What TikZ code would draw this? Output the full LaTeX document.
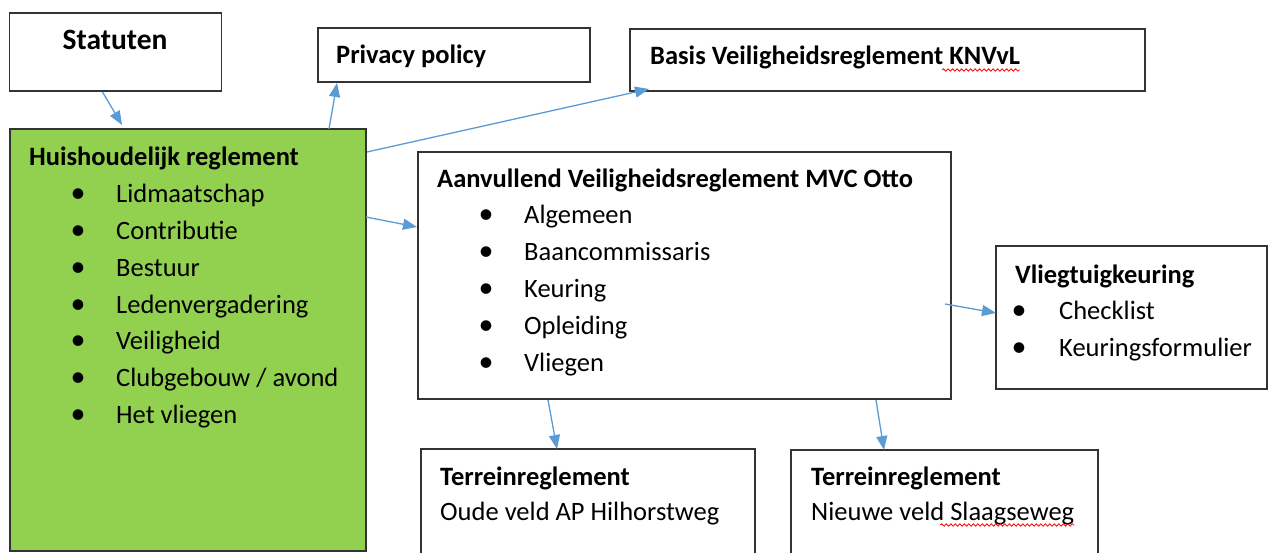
\documentclass[tikz,border=0pt]{standalone}
\usepackage{fontspec}
\setmainfont{Carlito}
\usetikzlibrary{arrows.meta,decorations.pathmorphing}
\definecolor{arrowblue}{HTML}{5B9BD5}
\definecolor{boxgreen}{HTML}{92D050}
\begin{document}
\begin{tikzpicture}[x=1pt,y=-1pt,
  box/.style={draw=black!80, line width=1.3pt, inner sep=0pt, outer sep=0pt, anchor=north west},
  txt/.style={anchor=base west, inner sep=0pt, yshift=-2pt, font=\fontsize{26.5}{30}\selectfont},
  btxt/.style={anchor=base west, inner sep=0pt, yshift=-2pt, font=\fontsize{26.5}{30}\selectfont\bfseries},
  bul/.style={anchor=base, inner sep=0pt, yshift=-2pt, font=\fontsize{30}{30}\selectfont},
  arr/.style={draw=arrowblue, line width=1.3pt, -{Triangle[length=14pt,width=11pt]}},
  wig/.style={draw=red, line width=0.8pt, decorate, decoration={snake, amplitude=1.2pt, segment length=4.5pt}}
]
\useasboundingbox (0,0) rectangle (1270,553);
\clip (0,0) rectangle (1270,553);

% boxes
\node[box, minimum width=212pt, minimum height=78pt] (stat) at (9.5,13) {};
\node[box, minimum width=272pt, minimum height=54pt] (priv) at (318,28) {};
\node[box, minimum width=515pt, minimum height=62pt] (basis) at (630,29) {};
\node[box, fill=boxgreen, minimum width=356pt, minimum height=422pt] (huis) at (10,129) {};
\node[box, minimum width=533pt, minimum height=247pt] (aanv) at (418,152) {};
\node[box, minimum width=271pt, minimum height=143pt] (vlieg) at (996,246) {};
\node[box, minimum width=334pt, minimum height=120pt] (ter1) at (421,449) {};
\node[box, minimum width=307pt, minimum height=120pt] (ter2) at (791,450) {};

% texts
\node[btxt, anchor=base, font=\fontsize{29.5}{30}\selectfont\bfseries] (statt) at (115,48) {Statuten};
\node[btxt] (privt) at (336,62) {Privacy policy};
\node[btxt] (basist) at (650,63) {Basis Veiligheidsreglement KNVvL};
\node[btxt] (huist) at (29,164) {Huishoudelijk reglement};
\foreach \t [count=\i from 0] in {Lidmaatschap, Contributie, Bestuur, Ledenvergadering, Veiligheid, Clubgebouw / avond, Het vliegen} {
  \node[bul] (hb\i) at (78, 201+36.7*\i) {•};
  \node[txt] (hi\i) at (116, 201+36.7*\i) {\t};
}
\node[btxt] (aanvt) at (437,186) {Aanvullend Veiligheidsreglement MVC Otto};
\foreach \t [count=\i from 0] in {Algemeen, Baancommissaris, Keuring, Opleiding, Vliegen} {
  \node[bul] (ab\i) at (486, 222+36.8*\i) {•};
  \node[txt] (ai\i) at (524, 222+36.8*\i) {\t};
}
\node[btxt] (vliegt) at (1015,282) {Vliegtuigkeuring};
\node[bul] (vb0) at (1019,318) {•};
\node[txt] (vi0) at (1059,318) {Checklist};
\node[bul] (vb1) at (1019,355) {•};
\node[txt] (vi1) at (1059,355) {Keuringsformulier};
\node[btxt] (ter1t) at (440,483) {Terreinreglement};
\node[txt] (ter1b) at (440,518) {Oude veld AP Hilhorstweg};
\node[btxt] (ter2t) at (811,483) {Terreinreglement};
\node[txt] (ter2b) at (811,518) {Nieuwe veld Slaagseweg};

% spell-check squiggles
\draw[wig] ([xshift=-78pt,yshift=-5pt]basist.base east) -- ([yshift=-5pt]basist.base east);
\draw[wig] ([xshift=-134pt,yshift=-5pt]ter2b.base east) -- ([yshift=-5pt]ter2b.base east);

% connectors
\draw[arr] ([xshift=93pt,yshift=-1pt]stat.south west) -- ([xshift=112pt,yshift=4pt]huis.north west);
\draw[arr] ([xshift=319pt]huis.north west) -- ([xshift=19pt,yshift=-1pt]priv.south west);
\draw[arr] ([xshift=1pt,yshift=-23pt]huis.north east) -- ([xshift=19pt,yshift=2pt]basis.south west);
\draw[arr] ([yshift=-88pt]huis.north east) -- ([xshift=-1pt,yshift=-75pt]aanv.north west);
\draw[arr] ([xshift=-6pt,yshift=-152pt]aanv.north east) -- ([yshift=-67pt]vlieg.north west);
\draw[arr] ([xshift=130pt,yshift=-1pt]aanv.south west) -- ([xshift=136pt]ter1.north west);
\draw[arr] ([xshift=458pt,yshift=-1pt]aanv.south west) -- ([xshift=93pt]ter2.north west);
\end{tikzpicture}
\end{document}
